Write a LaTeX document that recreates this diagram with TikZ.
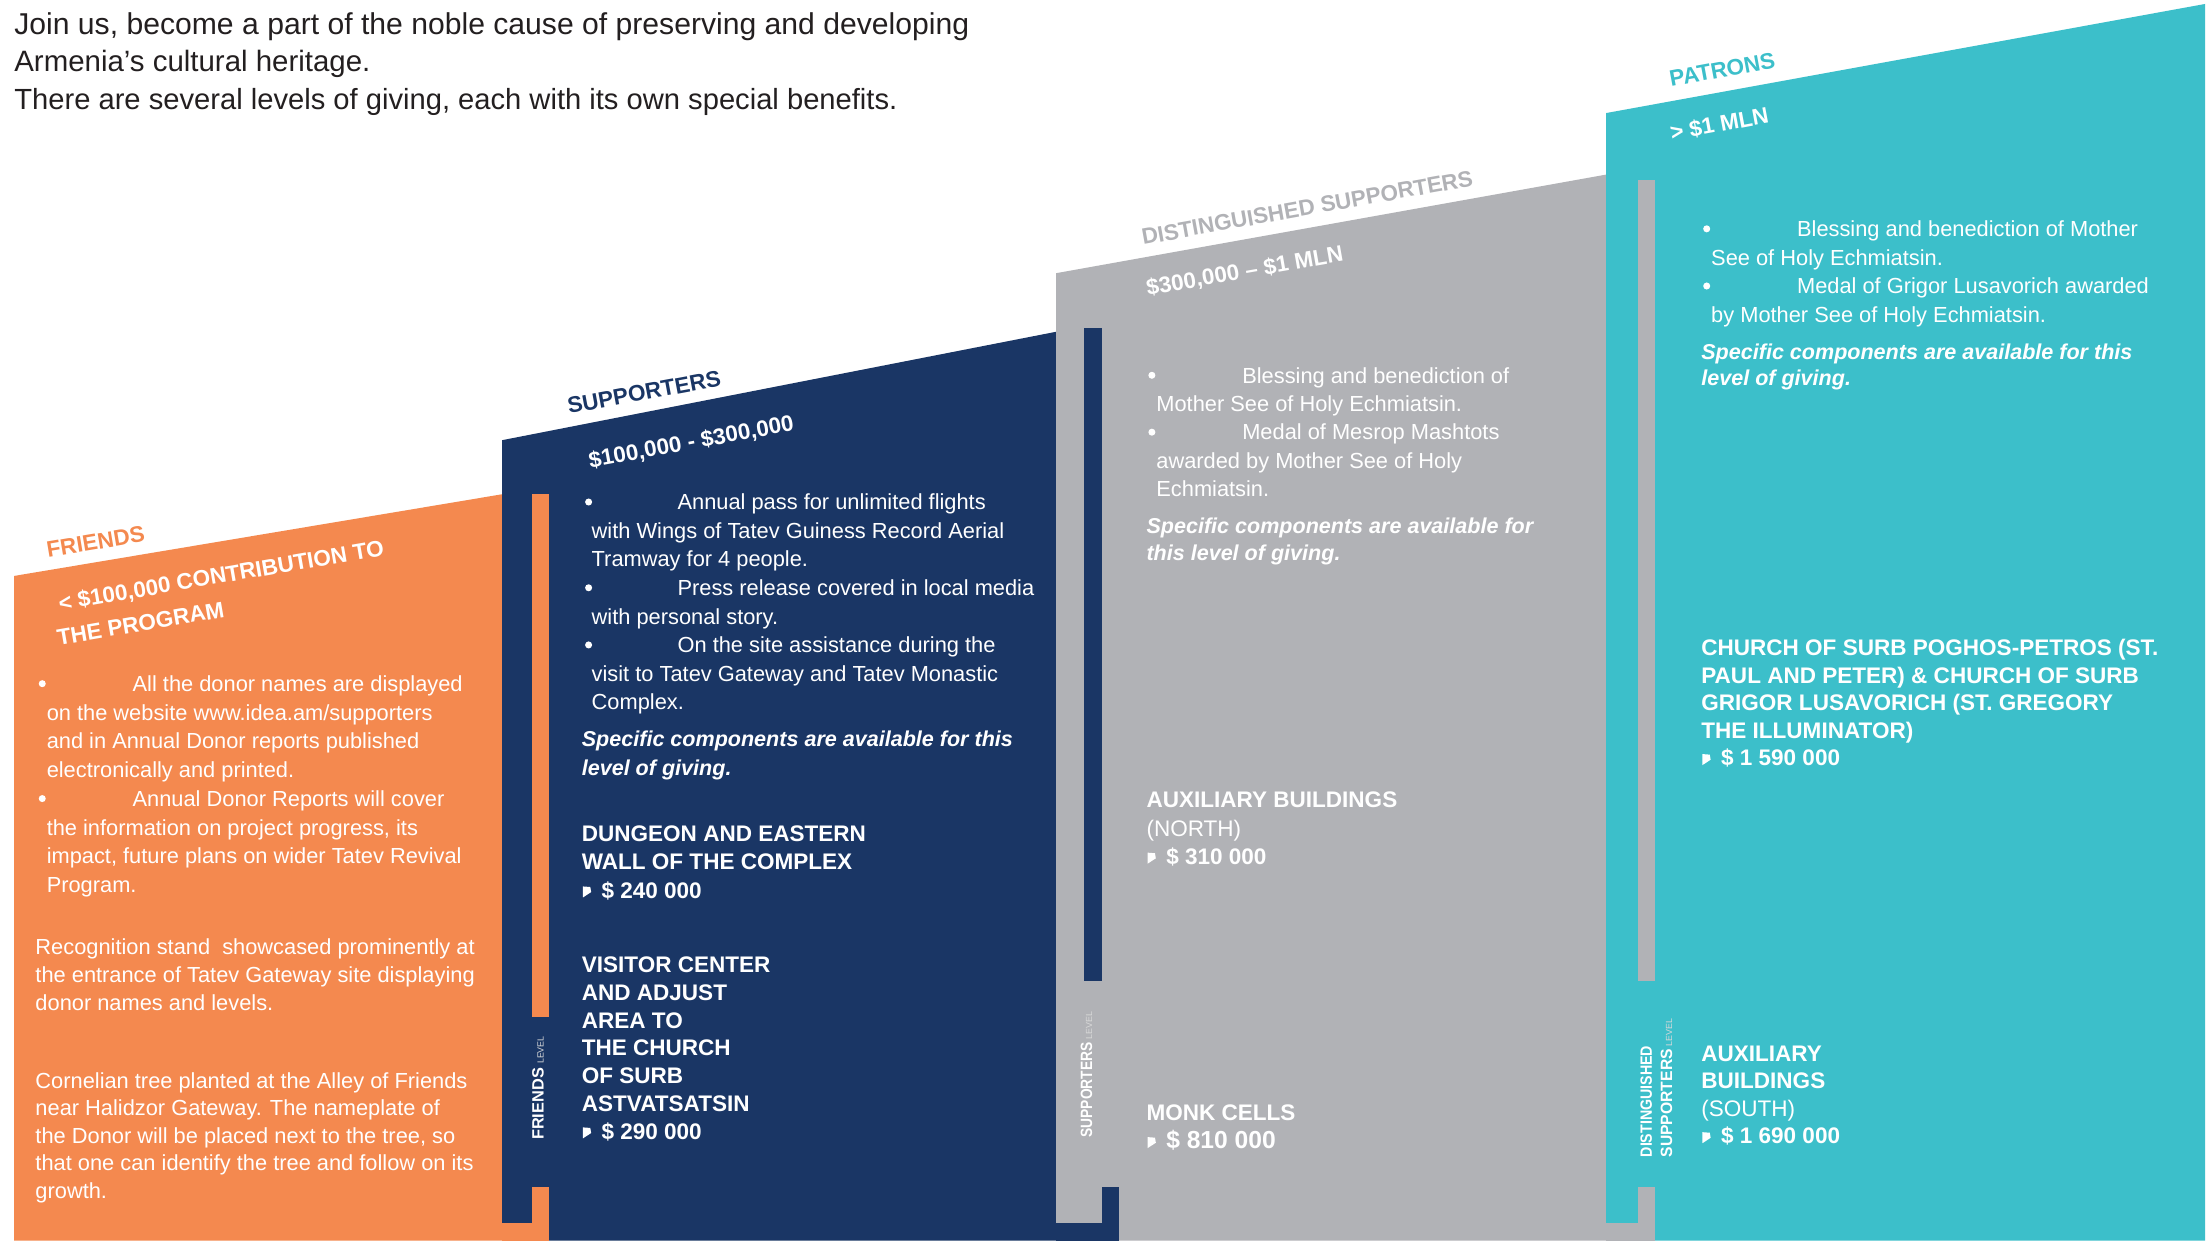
\documentclass[tikz,border=0pt]{standalone}
\usepackage{fontspec}
\usepackage{graphicx}
\setmainfont{Liberation Sans}
\definecolor{cOr}{HTML}{F4894F}
\definecolor{cNv}{HTML}{1A3665}
\definecolor{cGr}{HTML}{B1B2B6}
\definecolor{cTl}{HTML}{3CBFCA}
\definecolor{cTx}{HTML}{231F20}
\newcommand\pricemark[2]{\fill[white] (#1,#2) -- ++(5.2,0.4) -- ++(0.6,3.6) -- ++(-5.8,3.8) -- cycle;}
\newcommand\bdot[2]{\fill[white] (#1,#2) circle (2.5pt);}
\tikzset{
  hdr/.style={inner sep=0pt, anchor=base west, align=left, text=cTx, font=\fontsize{20.7}{26.5}\selectfont},
  hd/.style={inner sep=0pt, anchor=base west, font=\fontsize{16}{19}\selectfont\bfseries},
  bodytxt/.style={inner sep=0pt, anchor=base west, align=left, text=white, font=\fontsize{15.5}{#1}\selectfont},
  bodytxt/.default=20.3,
  italtxt/.style={inner sep=0pt, anchor=base west, align=left, text=white, font=\fontsize{15.3}{#1}\selectfont\bfseries\itshape},
  italtxt/.default=19,
  capsblk/.style={inner sep=0pt, anchor=base west, align=left, text=white, font=\fontsize{16}{#1}\selectfont\bfseries},
  capsblk/.default=19.7,
  lvltxt/.style={inner sep=0pt, anchor=base west, rotate=90, text=white, font=\fontsize{11.6}{13}\selectfont\bfseries},
}
\newcommand\lvlword{{\fontsize{6.3}{7}\selectfont\mdseries\color{white!85!black}LEVEL}}
\begin{document}
\begin{tikzpicture}[x=1pt,y=-1pt]
\useasboundingbox (0,0) rectangle (1568,881);
\fill[white] (0,0) rectangle (1568,881);
% ---------- panels ----------
\fill[cOr] (10,409) -- (356.5,351) -- (356.5,881) -- (10,881) -- cycle;
\fill[cNv] (356.5,312.6) -- (750,235.6) -- (750,881) -- (356.5,881) -- cycle;
\fill[cOr] (377.8,351) rectangle (390,722.3);
\fill[cOr] (356.5,868.6) rectangle (390,881);
\fill[cOr] (377.8,843) rectangle (390,881);
\fill[cGr] (750,194) -- (1140.5,124) -- (1140.5,881) -- (750,881) -- cycle;
\fill[cNv] (769.7,233) rectangle (782.3,696.5);
\fill[cNv] (750,868.4) rectangle (794.8,881);
\fill[cNv] (782.6,843) rectangle (794.8,881);
\fill[cTl] (1140.5,80.3) -- (1566,2.8) -- (1566,881) -- (1140.5,881) -- cycle;
\fill[cGr] (1163.4,127.5) rectangle (1175.4,696.5);
\fill[cGr] (1140.5,868.4) rectangle (1175.4,881);
\fill[cGr] (1163.4,843) rectangle (1175.4,881);
% ---------- intro (anchor = last baseline) ----------
\node[hdr] (intro) at (10,77.5) {{\fontsize{21.4}{26.5}\selectfont Join us, become a part of the noble cause of preserving and developing}\\{\fontsize{20.9}{26.5}\selectfont Armenia’s cultural heritage.}\\There are several levels of giving, each with its own special benefits.};
% ---------- slanted titles ----------
\node[hd, text=cOr, rotate=9.5] (tFr) at (34,396) {FRIENDS};
\node[hd, text=white, rotate=9.8] (tFrA) at (42.5,434) {< \$100,000 CONTRIBUTION TO};
\node[hd, text=white, rotate=9.8] (tFrB) at (41.4,458.5) {THE PROGRAM};
\node[hd, text=cNv, rotate=10.5] (tSu) at (404,294) {SUPPORTERS};
\node[hd, text=white, rotate=10.5] (tSuA) at (419,332.5) {\$100,000 - \$300,000};
\node[hd, text=cGr, rotate=10.2, font=\fontsize{15.9}{18}\selectfont\bfseries] (tDs) at (811.7,174) {DISTINGUISHED SUPPORTERS};
\node[hd, text=white, rotate=10] (tDsA) at (815,210) {\$300,000 – \$1 MLN};
\node[hd, text=cTl, rotate=10.5] (tPa) at (1186.6,61.8) {PATRONS};
\node[hd, text=white, rotate=10.5] (tPaA) at (1187,100) {> \$1 MLN};
% ---------- level labels ----------
\node[lvltxt] (lvF) at (386,809.6) {FRIENDS\hspace{3pt}\lvlword};
\node[lvltxt] (lvS) at (775.5,808) {\scalebox{0.845}[1]{SUPPORTERS}\hspace{2pt}\lvlword};
\node[lvltxt] (lvD1) at (1173,822) {\scalebox{0.87}[1]{DISTINGUISHED}};
\node[lvltxt] (lvD2) at (1187.5,822) {\scalebox{0.96}[1]{SUPPORTERS}\hspace{2pt}\lvlword};
% ---------- friends panel ----------
\bdot{30}{485.5}\bdot{30}{567.1}
\node[bodytxt=20.4] (frB) at (33,633.8) {\hspace*{61pt}All the donor names are displayed\\on the website www.idea.am/supporters\\and in Annual Donor reports published\\electronically and printed.\\\hspace*{61pt}Annual Donor Reports will cover\\the information on project progress, its\\impact, future plans on wider Tatev Revival\\Program.};
\node[bodytxt=19.7] (frR) at (25,717.4) {Recognition stand\ \ showcased prominently at\\the entrance of Tatev Gateway site displaying\\donor names and levels.};
\node[bodytxt=19.5] (frC) at (25,851) {Cornelian tree planted at the Alley of Friends\\near Halidzor Gateway. The nameplate of\\the Donor will be placed next to the tree, so\\that one can identify the tree and follow on its\\growth.};
% ---------- supporters panel ----------
\bdot{418}{356.5}\bdot{418}{417.4}\bdot{418}{458}
\node[bodytxt=20.3] (suB) at (420,504.1) {\hspace*{61pt}Annual pass for unlimited flights\\with Wings of Tatev Guiness Record Aerial\\Tramway for 4 people.\\\hspace*{61pt}Press release covered in local media\\with personal story.\\\hspace*{61pt}On the site assistance during the\\visit to Tatev Gateway and Tatev Monastic\\Complex.};
\node[italtxt=21] (suI) at (413,551) {Specific components are available for this\\level of giving.};
\node[capsblk=20] (suD) at (413,637.7) {DUNGEON AND EASTERN\\WALL OF THE COMPLEX\\\hspace*{14pt}\$ 240 000};
\pricemark{414}{629.5}
\node[capsblk=19.7] (suV) at (413,808.9) {VISITOR CENTER\\AND ADJUST\\AREA TO\\THE CHURCH\\OF SURB\\ASTVATSATSIN\\\hspace*{14pt}\$ 290 000};
\pricemark{414}{800.6}
% ---------- distinguished panel ----------
\bdot{818}{266.5}\bdot{818}{306.9}
\node[bodytxt=20.2] (dsB) at (821,352.8) {\hspace*{61pt}Blessing and benediction of\\Mother See of Holy Echmiatsin.\\\hspace*{61pt}Medal of Mesrop Mashtots\\awarded by Mother See of Holy\\Echmiatsin.};
\node[italtxt=19] (dsI) at (814,398) {Specific components are available for\\this level of giving.};
\node[capsblk=20] (dsN) at (814,613.7) {AUXILIARY BUILDINGS\\{\mdseries (NORTH)}\\\hspace*{14pt}\$ 310 000};
\pricemark{815}{605.5}
\node[capsblk=20] (dsM) at (814,815.7) {MONK CELLS\\\hspace*{14pt}{\fontsize{17.5}{20}\selectfont\$ 810 000}};
\pricemark{815}{807.5}
% ---------- patrons panel ----------
\bdot{1212}{162.5}\bdot{1212}{203.1}
\node[bodytxt=20.3] (paB) at (1215,228.9) {\hspace*{61pt}Blessing and benediction of Mother\\See of Holy Echmiatsin.\\\hspace*{61pt}Medal of Grigor Lusavorich awarded\\by Mother See of Holy Echmiatsin.};
\node[italtxt=19] (paI) at (1208,274) {Specific components are available for this\\level of giving.};
\node[capsblk=19.5] (paC) at (1208,543.7) {CHURCH OF SURB POGHOS-PETROS (ST.\\PAUL AND PETER) \& CHURCH OF SURB\\GRIGOR LUSAVORICH (ST. GREGORY\\THE ILLUMINATOR)\\\hspace*{14pt}\$ 1 590 000};
\pricemark{1209}{535.5}
\node[capsblk=19.5] (paS) at (1208,812.2) {AUXILIARY\\BUILDINGS\\{\mdseries (SOUTH)}\\\hspace*{14pt}\$ 1 690 000};
\pricemark{1209}{804}
\end{tikzpicture}
\end{document}
